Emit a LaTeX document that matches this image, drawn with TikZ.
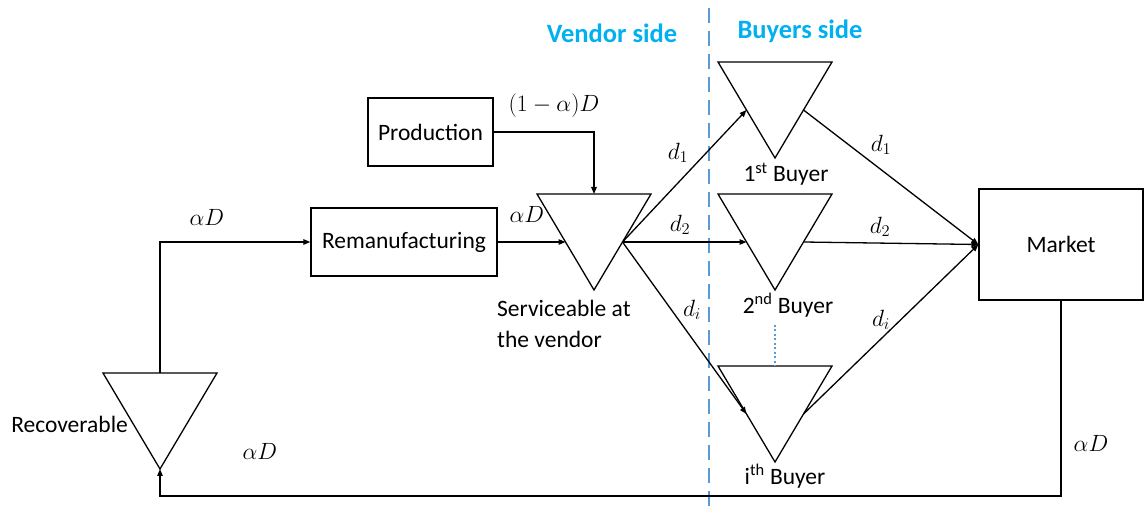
\RequirePackage{fix-cm}
\documentclass[tikz,border=0pt]{standalone}
\usepackage{fontspec}
\setmainfont{Carlito}
\usetikzlibrary{arrows.meta,calc}
\definecolor{dashblue}{RGB}{91,155,213}
\definecolor{sideblue}{RGB}{0,176,240}
\newcommand\mytri[3]{%
  \coordinate (#1-tl) at ({#2-57},#3);
  \coordinate (#1-tr) at ({#2+57},#3);
  \coordinate (#1-b) at (#2,{#3+96});
  \coordinate (#1-t) at (#2,#3);
  \coordinate (#1-l) at ({#2-28.5},{#3+48});
  \coordinate (#1-r) at ({#2+28.5},{#3+48});
  \draw[tri] (#1-tl) -- (#1-tr) -- (#1-b) -- cycle;
}
\begin{document}
\begin{tikzpicture}[x=1pt,y=-1pt,
  tri/.style={line width=1.3pt,line join=miter},
  box/.style={draw,line width=1.3pt,inner sep=0pt,font=\fontsize{23.5}{28}\selectfont},
  arr/.style={line width=1.3pt,-{Triangle[length=7pt,width=5.5pt]}},
  lbl/.style={font=\fontsize{23.5}{28}\selectfont,inner sep=0pt},
  mlbl/.style={font=\fontsize{23.5}{28}\selectfont,inner sep=0pt},
  side/.style={font=\fontsize{26.5}{30}\selectfont\bfseries,text=sideblue,inner sep=0pt}]
\useasboundingbox (0,0) rectangle (1144,510);

% divider
\draw[dashblue,line width=2.6pt,dash pattern=on 15pt off 8pt] (709,8) -- (709,510);
\node[side] (vs) at (612,33) {Vendor side};
\node[side] (bs) at (800,31) {Buyers side};

% boxes
\node[box,minimum width=125pt,minimum height=68pt] (P) at (430.5,132) {Production};
\node[box,minimum width=186pt,minimum height=68pt] (Rem) at (404,242) {Remanufacturing};
\node[box,minimum width=164pt,minimum height=111pt] (M) at (1061,244.5) {Market};

% triangles
\mytri{S}{594}{194}
\mytri{B1}{775}{62}
\mytri{B2}{775}{194}
\mytri{Bi}{775}{366}
\mytri{R}{160}{373}

% dotted continuation
\draw[dashblue,line width=2pt,dash pattern=on 2pt off 2.5pt] (775,325) -- (Bi-t);

% connectors
\draw[arr] (P.east) -| (S-t);
\draw[arr] (Rem.east) -- (S-l);
\draw[arr] (R-t) |- (Rem.west);
\draw[arr] (S-r) -- (B1-l);
\draw[arr] (S-r) -- (B2-l);
\draw[arr] (S-r) -- (Bi-l);
\draw[arr] (B1-r) -- (M.west);
\draw[arr] (B2-r) -- (M.west);
\draw[arr] (Bi-r) -- (M.west);
\coordinate (low) at (0,496);
\draw[arr] (M.south) -- (M.south |- low) -- (R-b |- low) -- (R-b);

% labels
\node[mlbl] (l1) at (554,106) {$(1-\alpha)D$};
\node[mlbl] (l2) at (527,214) {$\alpha D$};
\node[mlbl] (l3) at (207,217) {$\alpha D$};
\node[mlbl] (l4) at (260,451) {$\alpha D$};
\node[mlbl] (l5) at (1091,443) {$\alpha D$};
\node[mlbl] (d1a) at (678,153) {$d_1$};
\node[mlbl] (d2a) at (680,225) {$d_2$};
\node[mlbl] (dia) at (692,310) {$d_i$};
\node[mlbl] (d1b) at (881,145) {$d_1$};
\node[mlbl] (d2b) at (880,227) {$d_2$};
\node[mlbl] (dib) at (881,320) {$d_i$};
\node[lbl] (n1) at (786,174) {1\textsuperscript{st} Buyer};
\node[lbl] (n2) at (788,305) {2\textsuperscript{nd} Buyer};
\node[lbl] (n3) at (785,476) {i\textsuperscript{th} Buyer};
\node[lbl,anchor=east] (rec) at (128,424) {Recoverable};
\node[lbl,align=left,anchor=north west,font=\fontsize{23.5}{31}\selectfont] (serv) at (497,300) {Serviceable at\\the vendor};
\end{tikzpicture}
\end{document}
